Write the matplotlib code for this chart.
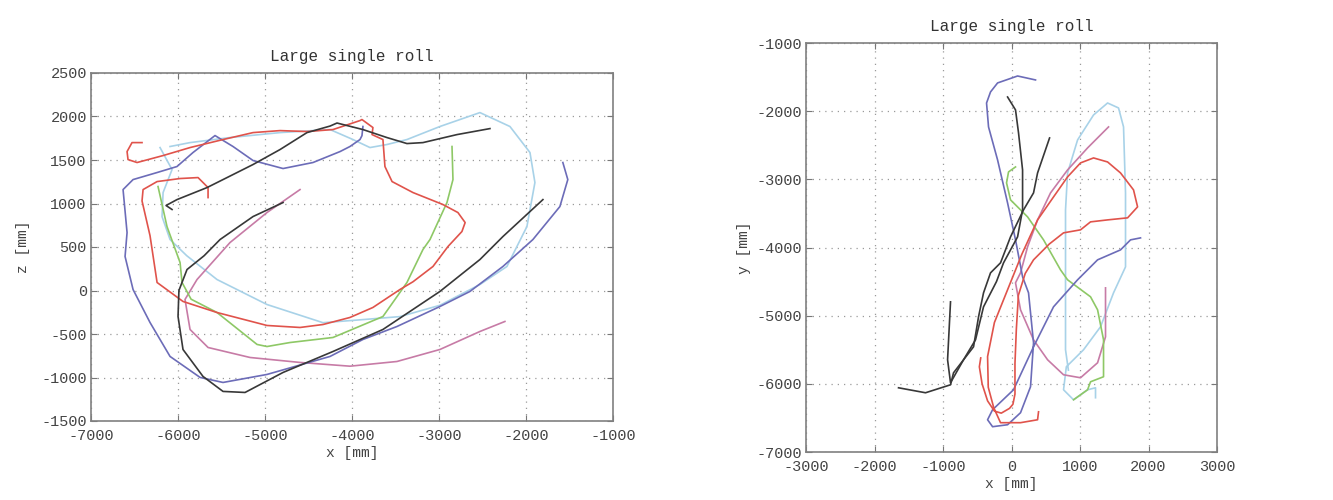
import matplotlib
matplotlib.use("Agg")
import matplotlib.pyplot as plt

plt.rcParams["font.family"] = ["Liberation Mono", "DejaVu Sans Mono"]
plt.rcParams["axes.unicode_minus"] = False

TITLE = "Large single roll"

# ---- left panel: x-z trajectories [mm] ----
xz_red_x = [-6414, -6529, -6586, -6575, -6471, -6172, -5862, -5483, -5138, -4828, -4518, -4219,
            -3909, -3886, -3760, -3770, -3645, -3622, -3540, -3300, -2955, -2783, -2700, -2737,
            -2897, -3070, -3300, -3450, -3760, -4024, -4334, -4598, -4978, -5552, -5943, -6241,
            -6322, -6414, -6402, -6241, -5977, -5770, -5655, -5655]
xz_red_z = [1700, 1700, 1597, 1505, 1471, 1551, 1643, 1735, 1815, 1838, 1827, 1850,
            1953, 1965, 1873, 1792, 1735, 1425, 1252, 1126, 988, 896, 781, 678,
            506, 276, 100, 11, -195, -310, -391, -425, -402, -253, -126, 92,
            630, 1030, 1160, 1252, 1287, 1298, 1183, 1068]

xz_blue_x = [-1577, -1520, -1611, -1921, -2266, -2645, -2990, -3484, -3875, -4253, -4978, -5483,
             -5747, -6092, -6322, -6517, -6609, -6586, -6632, -6517, -6241, -6012, -5828, -5575,
             -5368, -5138, -4793, -4449, -4138, -4024, -3909, -3886, -3875]
xz_blue_z = [1471, 1275, 965, 586, 276, -11, -184, -414, -563, -758, -965, -1057,
             -999, -758, -368, 11, 391, 666, 1160, 1275, 1356, 1425, 1586, 1781,
             1655, 1494, 1402, 1471, 1597, 1655, 1735, 1780, 1885]

xz_lblue_x = [-6207, -6069, -6172, -6184, -6092, -5900, -5552, -4978, -4334, -3944, -3450, -2990,
              -2530, -2220, -1990, -1898, -1955, -2185, -2530, -2990, -3369, -3599, -3794, -3989,
              -4253, -4828, -5403, -5862, -6092]
xz_lblue_z = [1643, 1390, 1126, 850, 586, 400, 126, -161, -370, -340, -300, -170,
              69, 276, 735, 1241, 1586, 1885, 2045, 1885, 1735, 1678, 1643, 1735,
              1850, 1815, 1758, 1700, 1655]

xz_black1_x = [-6069, -6138, -6012, -5667, -5437, -5138, -4828, -4518, -4253, -4173, -3875, -3599,
               -3369, -3185, -2794, -2415]
xz_black1_z = [931, 977, 1045, 1183, 1298, 1448, 1620, 1815, 1890, 1925, 1850, 1758,
               1689, 1700, 1792, 1861]

xz_black2_x = [-4793, -5138, -5517, -5700, -5897, -5990, -6000, -5943, -5713, -5483, -5230, -4793,
               -4219, -3645, -2990, -2530, -2266, -1806]
xz_black2_z = [1011, 850, 586, 400, 241, 0, -299, -678, -988, -1160, -1172, -942,
               -701, -448, -11, 356, 620, 1045]

xz_green_x = [-6230, -6127, -5977, -5954, -5850, -5552, -5092, -4978, -4713, -4219, -3645, -3369,
              -3185, -3104, -2909, -2840, -2851]
xz_green_z = [1195, 735, 322, 92, -100, -253, -620, -644, -598, -540, -299, 92,
              471, 586, 1011, 1275, 1655]

xz_pink_x = [-4598, -4978, -5403, -5782, -5920, -5862, -5655, -5172, -4598, -4024, -3484, -2990,
             -2530, -2243]
xz_pink_z = [1160, 896, 551, 126, -103, -448, -655, -770, -827, -870, -816, -678,
             -471, -356]

# ---- right panel: x-y trajectories [mm] ----
xy_blue_x = [350, 88, -204, -307, -365, -336, -204, -58, 58, 161, 248, 321,
             277, 131, -58, -277, -350, -277, 29, 321, 613, 964, 1256, 1591,
             1737, 1883]
xy_blue_y = [-1542, -1484, -1586, -1718, -1880, -2231, -2715, -3346, -3888, -4430, -4665, -5398,
             -6043, -6424, -6600, -6629, -6527, -6380, -6087, -5457, -4870, -4474, -4181, -4035,
             -3888, -3859]

xy_black1_x = [-58, 58, 102, 161, 161, 88, -117, -220, -409, -526, -701, -891, -934, -891]
xy_black1_y = [-1792, -1982, -2319, -2862, -3448, -3844, -4225, -4500, -4870, -5354, -5647, -5984,
               -5647, -4797]

xy_black2_x = [555, 380, 321, 175, -15, -161, -307, -409, -482, -555, -847, -891, -1256, -1650]
xy_black2_y = [-2393, -2906, -3199, -3448, -3844, -4225, -4372, -4665, -5017, -5457, -5838, -6014,
               -6131, -6058]

xy_red_x = [-450, -470, -430, -350, -250, -150, -30, 20, 50, 50, 70, 100,
            200, 321, 550, 759, 1007, 1153, 1402, 1694, 1840, 1781, 1591, 1402,
            1197, 1007, 818, 613, 380, 150, -50, -250, -350, -340, -260, -161,
            131, 380, 394]
xy_red_y = [-5620, -5750, -6000, -6250, -6400, -6430, -6360, -6300, -6150, -5700, -5200, -4700,
            -4380, -4181, -3950, -3785, -3741, -3624, -3595, -3565, -3404, -3155, -2906, -2745,
            -2686, -2759, -2964, -3258, -3595, -4100, -4600, -5100, -5600, -6050, -6350, -6570,
            -6570, -6527, -6410]

xy_lblue_x = [1226, 1226, 1110, 905, 759, 800, 1051, 1299, 1489, 1664, 1664, 1635,
              1562, 1402, 1197, 964, 818, 788, 788, 788, 830]
xy_lblue_y = [-6204, -6058, -6087, -6234, -6087, -5750, -5500, -5163, -4665, -4284, -3199, -2231,
              -1953, -1880, -2056, -2422, -2906, -3448, -4430, -5500, -5800]

xy_green_x = [58, -44, -73, -15, 234, 467, 715, 818, 1153, 1256, 1343, 1343,
              1153, 1110, 905]
xy_green_y = [-2818, -2891, -3052, -3301, -3551, -3888, -4328, -4474, -4723, -4914, -5354, -5896,
              -5970, -6087, -6234]

xy_pink_x = [1372, 1372, 1256, 1007, 759, 526, 321, 131, 58, 131, 234, 380,
             569, 818, 1110, 1416]
xy_pink_y = [-4592, -5310, -5691, -5911, -5867, -5647, -5354, -4914, -4518, -4372, -3990, -3595,
             -3199, -2862, -2539, -2231]

C_BLUE = "#6c6cb8"
C_RED = "#e0534b"
C_LBLUE = "#a8d2e8"
C_BLACK = "#383838"
C_GREEN = "#8ec866"
C_PINK = "#c77ba6"


def style_axes(ax, xticks, yticks):
    ax.set_xlim(xticks[0], xticks[-1])
    ax.set_ylim(yticks[0], yticks[-1])
    ax.set_xticks(xticks)
    ax.set_yticks(yticks)
    ax.grid(True, linestyle=(0, (1, 4)), color="#9a9a9a", linewidth=0.9)
    ax.tick_params(direction="in", top=True, right=True, length=4, width=0.8,
                   colors="#777777", labelcolor="#444444", labelsize=11)
    ax.tick_params(axis="x", pad=6)
    ax.tick_params(axis="y", pad=3)
    for s in ax.spines.values():
        s.set_color("#808080")
        s.set_linewidth(1.2)
    ax.set_title(TITLE, fontsize=11.5, color="#333333", pad=9)


fig = plt.figure(figsize=(13.33, 5.0), dpi=100)

ax1 = fig.add_axes([0.0683, 0.158, 0.3916, 0.696])
lw = 1.2
ax1.plot(xz_lblue_x, xz_lblue_z, color=C_LBLUE, lw=lw)
ax1.plot(xz_pink_x, xz_pink_z, color=C_PINK, lw=lw)
ax1.plot(xz_green_x, xz_green_z, color=C_GREEN, lw=lw)
ax1.plot(xz_blue_x, xz_blue_z, color=C_BLUE, lw=lw)
ax1.plot(xz_red_x, xz_red_z, color=C_RED, lw=lw)
ax1.plot(xz_black1_x, xz_black1_z, color=C_BLACK, lw=lw)
ax1.plot(xz_black2_x, xz_black2_z, color=C_BLACK, lw=lw)
style_axes(ax1, list(range(-7000, -999, 1000)), list(range(-1500, 2501, 500)))
ax1.set_xlabel("x [mm]", fontsize=10.5, color="#444444", labelpad=2)
ax1.set_ylabel("z [mm]", fontsize=10.5, color="#444444", labelpad=8)

ax2 = fig.add_axes([0.6047, 0.096, 0.3083, 0.818])
ax2.plot(xy_lblue_x, xy_lblue_y, color=C_LBLUE, lw=lw)
ax2.plot(xy_pink_x, xy_pink_y, color=C_PINK, lw=lw)
ax2.plot(xy_green_x, xy_green_y, color=C_GREEN, lw=lw)
ax2.plot(xy_blue_x, xy_blue_y, color=C_BLUE, lw=lw)
ax2.plot(xy_red_x, xy_red_y, color=C_RED, lw=lw)
ax2.plot(xy_black1_x, xy_black1_y, color=C_BLACK, lw=lw)
ax2.plot(xy_black2_x, xy_black2_y, color=C_BLACK, lw=lw)
style_axes(ax2, list(range(-3000, 3001, 1000)), list(range(-7000, -999, 1000)))
ax2.set_xlabel("x [mm]", fontsize=10.5, color="#444444", labelpad=2)
ax2.set_ylabel("y [mm]", fontsize=10.5, color="#444444", labelpad=4)

fig.savefig("out.png", dpi=100, facecolor="white")
